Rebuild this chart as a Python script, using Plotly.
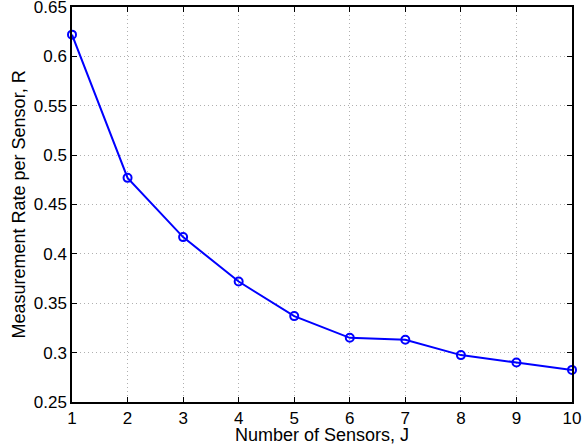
import plotly.graph_objects as go

sensors = [1, 2, 3, 4, 5, 6, 7, 8, 9, 10]
rate = [0.622, 0.477, 0.417, 0.372, 0.337, 0.315, 0.313, 0.2975, 0.290, 0.2825]

x_ticks = [1, 2, 3, 4, 5, 6, 7, 8, 9, 10]
y_ticks = [0.25, 0.3, 0.35, 0.4, 0.45, 0.5, 0.55, 0.6, 0.65]
y_labels = ["0.25", "0.3", "0.35", "0.4", "0.45", "0.5", "0.55", "0.6", "0.65"]

fig = go.Figure()
fig.add_trace(go.Scatter(
    x=sensors, y=rate, mode="lines+markers",
    line=dict(color="#0000ff", width=2),
    marker=dict(symbol="circle-open", size=8, color="#0000ff", line=dict(width=2, color="#0000ff")),
    showlegend=False, cliponaxis=False,
))

font = dict(family="Liberation Sans, Arial, sans-serif", color="black")
fig.update_layout(
    width=582, height=446,
    margin=dict(l=72, r=10, t=7, b=44),
    paper_bgcolor="white", plot_bgcolor="white",
    font=dict(size=17, **font),
)
axis_common = dict(
    ticks="inside", ticklen=5, tickcolor="black",
    showline=True, linecolor="black", linewidth=1.5, mirror="allticks",
    showgrid=True, gridcolor="#b0b0b0", griddash="1px,3px", gridwidth=1,
    zeroline=False, tickfont=dict(size=17, **font), automargin=False,
    ticklabeloverflow="allow",
)
fig.update_xaxes(range=[1, 10], tickvals=x_ticks, **axis_common)
fig.update_yaxes(range=[0.25, 0.65], tickvals=y_ticks, ticktext=y_labels, **axis_common)
fig.add_annotation(
    text="Number of Sensors, J", xref="paper", yref="paper", x=0.5, y=-(435 - 402) / 395,
    xanchor="center", yanchor="middle", showarrow=False, font=dict(size=18, **font),
)
fig.add_annotation(
    text="Measurement Rate per Sensor, R", xref="paper", yref="paper", x=-(72 - 18) / 500, y=0.5,
    xanchor="center", yanchor="middle", textangle=-90, showarrow=False, font=dict(size=18, **font),
)
fig.write_html(
    "out.html",
    config={"displayModeBar": False},
    post_script="document.body.style.margin='0';document.body.style.overflow='hidden';",
)
